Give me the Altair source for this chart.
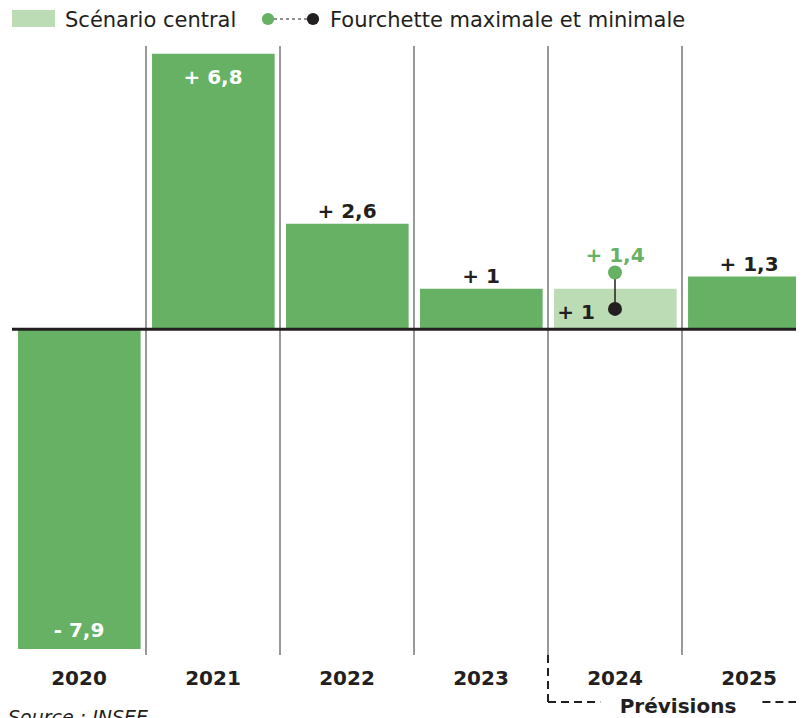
import altair as alt
import pandas as pd

years = ["2020", "2021", "2022", "2023", "2024", "2025"]
values = [-7.9, 6.8, 2.6, 1.0, 1.0, 1.3]
labels = ["- 7,9", "+ 6,8", "+ 2,6", "+ 1", "+ 1", "+ 1,3"]
label_pos = ["inside_bottom", "inside_top", "above", "above", "inside_left", "above"]
scenario = ["observed", "observed", "observed", "observed", "central", "observed"]
range_year = "2024"
range_max = 1.4
range_min = 0.5
range_max_label = "+ 1,4"

GREEN = "#66b163"
LIGHT = "#bcdcb5"
DARK = "#231f20"
FONT = "DejaVu Sans"

W, H = 784, 710
COL = 134.0
XMAX = W / COL
PX = 40.5
YDOM = [7.93 - H / PX, 7.93]

idx = list(range(len(years)))
bars = pd.DataFrame({
    "year": years, "value": values, "label": labels, "pos": label_pos,
    "scen": scenario, "i": idx,
})
bars["x0"] = bars["i"] + 0.045
bars["x1"] = bars["i"] + 0.96
bars["xc"] = bars["i"] + 0.5
bars["xl"] = bars["i"] + 0.21

xs = alt.Scale(domain=[0, XMAX], nice=False, zero=False)
ys = alt.Scale(domain=YDOM, nice=False, zero=False)
X = lambda f: alt.X(f, type="quantitative", scale=xs, axis=None)
Y = lambda f: alt.Y(f, type="quantitative", scale=ys, axis=None)

base = alt.Chart(bars)

bar_layer = base.mark_bar().encode(
    x=X("x0"), x2="x1", y=Y("value"), y2=alt.datum(0),
    color=alt.Color("scen:N", scale=alt.Scale(domain=["observed", "central"], range=[GREEN, LIGHT]), legend=None),
)

seps = pd.DataFrame({"b": idx[1:]})
sep_layer = alt.Chart(seps).mark_rule(color="#555", strokeWidth=1.2).encode(
    x=X("b"), y=alt.value(38), y2=alt.value(647)
)

zero_layer = alt.Chart(pd.DataFrame({"z": [0]})).mark_rule(color=DARK, strokeWidth=3).encode(
    y=Y("z"), x=alt.value(0), x2=alt.value(W)
)

txt = dict(font=FONT, fontWeight="bold", fontSize=20, baseline="alphabetic")
above = base.transform_filter(alt.datum.pos == "above").mark_text(dy=-6, color=DARK, **txt).encode(
    x=X("xc"), y=Y("value"), text="label")
in_top = base.transform_filter(alt.datum.pos == "inside_top").mark_text(dy=30, color="white", **txt).encode(
    x=X("xc"), y=Y("value"), text="label")
in_bot = base.transform_filter(alt.datum.pos == "inside_bottom").mark_text(dy=-12, color="white", **txt).encode(
    x=X("xc"), y=Y("value"), text="label")
in_left = base.transform_filter(alt.datum.pos == "inside_left").mark_text(dy=30, color=DARK, **txt).encode(
    x=X("xl"), y=Y("value"), text="label")

year_layer = base.mark_text(color=DARK, **txt).encode(
    x=X("xc"), y=alt.value(677), text="year")

ri = years.index(range_year)
rng = pd.DataFrame({"x": [ri + 0.5], "hi": [range_max], "lo": [range_min], "lab": [range_max_label]})
rc = alt.Chart(rng)
rng_line = rc.mark_rule(color=DARK, strokeWidth=1.5).encode(x=X("x"), y=Y("hi"), y2="lo")
dot_hi = rc.mark_point(filled=True, size=195, opacity=1, color=GREEN).encode(x=X("x"), y=Y("hi"))
dot_lo = rc.mark_point(filled=True, size=195, opacity=1, color=DARK).encode(x=X("x"), y=Y("lo"))
hi_lab = rc.mark_text(dy=-10, color=GREEN, **txt).encode(x=X("x"), y=Y("hi"), text="lab")

# legend
one = alt.Chart(pd.DataFrame({"a": [0]}))
leg_rect = one.mark_rect(color=LIGHT).encode(x=alt.value(0), x2=alt.value(43), y=alt.value(2), y2=alt.value(19))
leg_t1 = one.mark_text(align="left", baseline="alphabetic", font=FONT, fontSize=21, color=DARK,
                       text="Scénario central").encode(x=alt.value(53), y=alt.value(19))
leg_line = one.mark_rule(color=DARK, strokeWidth=1.2, strokeDash=[3, 3]).encode(
    x=alt.value(256), x2=alt.value(301), y=alt.value(11))
leg_d1 = one.mark_point(filled=True, size=150, opacity=1, color=GREEN).encode(x=alt.value(256), y=alt.value(11))
leg_d2 = one.mark_point(filled=True, size=150, opacity=1, color=DARK).encode(x=alt.value(301), y=alt.value(11))
leg_t2 = one.mark_text(align="left", baseline="alphabetic", font=FONT, fontSize=21, color=DARK,
                       text="Fourchette maximale et minimale").encode(x=alt.value(318), y=alt.value(19))

# forecast bracket
brk = pd.DataFrame({"s": [4.0], "e1": [4.39], "s2": [5.6], "e2": [XMAX], "m": [4.97]})
bc = alt.Chart(brk)
dash = dict(color=DARK, strokeWidth=2, strokeDash=[8, 5])
b_v = bc.mark_rule(**dash).encode(x=X("s"), y=alt.value(647), y2=alt.value(694))
b_h1 = bc.mark_rule(**dash).encode(x=X("s"), x2="e1", y=alt.value(694))
b_h2 = bc.mark_rule(**dash).encode(x=X("s2"), x2="e2", y=alt.value(694))
b_t = bc.mark_text(color=DARK, text="Prévisions", **txt).encode(x=X("m"), y=alt.value(705))

source = one.mark_text(align="left", baseline="alphabetic", font=FONT, fontStyle="italic", fontSize=19,
                       color=DARK, text="Source : INSEE").encode(x=alt.value(-4), y=alt.value(716))

chart = alt.layer(
    bar_layer, sep_layer, zero_layer, above, in_top, in_bot, in_left, year_layer,
    rng_line, dot_hi, dot_lo, hi_lab,
    leg_rect, leg_t1, leg_line, leg_d1, leg_d2, leg_t2,
    b_v, b_h1, b_h2, b_t, source,
).properties(
    width=W, height=H,
    autosize=alt.AutoSizeParams(type="none"),
    padding={"left": 4, "top": 0, "right": 0, "bottom": 0},
).configure_view(stroke=None)

chart.save("out.html", embed_options={"renderer": "svg", "actions": False})
